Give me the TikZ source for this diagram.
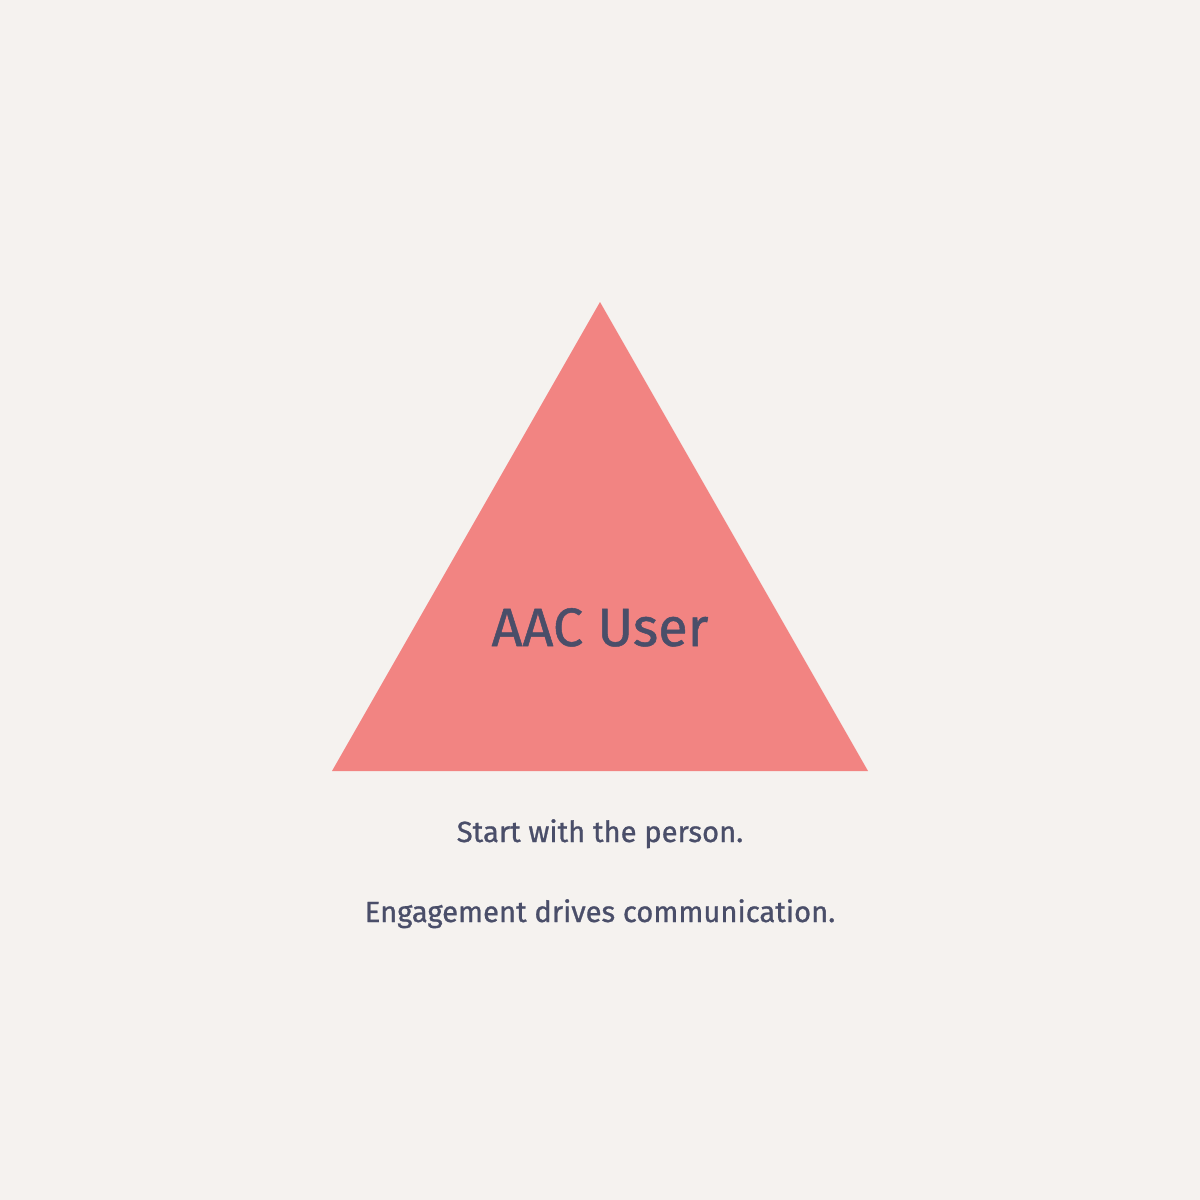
\documentclass[tikz,border=0pt]{standalone}
\usepackage{fontspec}
\setmainfont{Fira Sans}[FakeBold=0.9]
\definecolor{bgc}{HTML}{F5F2EF}
\definecolor{tric}{HTML}{F28482}
\definecolor{txtc}{HTML}{4A4E69}
\begin{document}
\begin{tikzpicture}[x=1pt,y=-1pt,
  lbl/.style={text=txtc,inner sep=0pt,anchor=base}]
\fill[bgc] (0,0) rectangle (1200,1200);
\useasboundingbox (0,0) rectangle (1200,1200);
\fill[tric] (600,302) -- (868,771) -- (332,771) -- cycle;
\node[lbl,font=\fontsize{54}{60}\selectfont] (user) at (600,646) {AAC User};
\node[lbl,font=\fontsize{29.2}{34}\selectfont] (s1) at (600,842) {Start with the person.};
\node[lbl,font=\fontsize{29.2}{34}\selectfont] (s2) at (600,922) {Engagement drives communication.};
\end{tikzpicture}
\end{document}
